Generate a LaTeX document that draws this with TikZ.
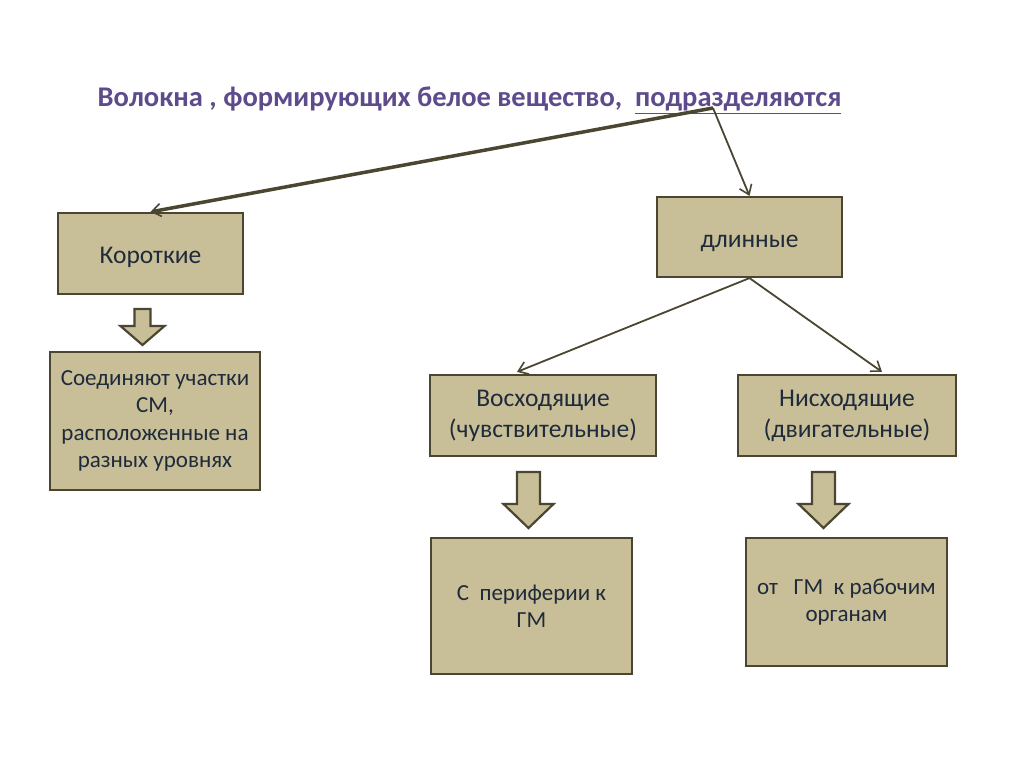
\documentclass[tikz,border=0pt]{standalone}
\usepackage{fontspec}
\setmainfont{Carlito}
\usetikzlibrary{arrows.meta,calc}
\definecolor{boxfill}{HTML}{C8BF98}
\definecolor{boxline}{HTML}{4B4631}
\definecolor{txt}{HTML}{1F2A3A}
\definecolor{ttl}{HTML}{5E4B8B}
\tikzset{
  box/.style={draw=boxline, line width=2.2pt, fill=boxfill, align=center, text=txt,
    font=\fontsize{23}{27.5}\selectfont, inner sep=0pt},
  bigbox/.style={box, font=\fontsize{25.5}{31}\selectfont},
  conn/.style={draw=boxline, line width=1.8pt, -{Straight Barb[length=9pt,width=13pt,line width=1.6pt]}},
  thickconn/.style={conn, line width=3.5pt},
  blockarrow/.style={draw=boxline, line width=2.2pt, fill=boxfill, line join=miter}
}
\newcommand{\blockarr}[6]{% xcenter, shaftTop, headTop, tip, shaftHalf, headHalf
  \draw[blockarrow] (#1-#5,#2) -- (#1+#5,#2) -- (#1+#5,#3) -- (#1+#6,#3) -- (#1,#4)
    -- (#1-#6,#3) -- (#1-#5,#3) -- cycle;}
\begin{document}
\begin{tikzpicture}[x=1pt,y=-1pt]
\useasboundingbox[fill=white] (0,0) rectangle (1024,767);
\node[text=ttl, font=\fontsize{28.5}{32}\selectfont\bfseries, anchor=base] (title) at (469.5,107)
  {Волокна , формирующих белое вещество,\ \ \underline{подразделяются}};
\coordinate (src) at (713,108);
\node[bigbox, minimum width=185pt, minimum height=81pt] (k) at (150.5,253.5) {\strut\raisebox{-4pt}{Короткие}};
\node[bigbox, minimum width=185pt, minimum height=80pt] (d) at (749.5,237) {\strut\raisebox{-4pt}{длинные}};
\node[box, minimum width=210pt, minimum height=138pt] (s) at (155,421)
  {Соединяют участки\\СМ,\\расположенные на\\разных уровнях};
\node[bigbox, minimum width=226pt, minimum height=81pt] (v) at (543,415.5)
  {Восходящие\\(чувствительные)};
\node[bigbox, minimum width=218pt, minimum height=81pt] (n) at (847,415.5)
  {Нисходящие\\(двигательные)};
\node[box, minimum width=201pt, minimum height=136pt] (p) at (531.5,606)
  {С\ \ периферии к\\ГМ};
\node[box, minimum width=201pt, minimum height=128pt] (o) at (846.5,602)
  {от\ \ \ ГМ\ \ к рабочим\\органам};
\draw[thickconn] (src) -- (k.north);
\draw[conn] (src) -- (d.north);
\draw[conn] (d.south) -- ($(v.north)+(-26,-2)$);
\draw[conn] (d.south) -- ($(n.north)+(35,-2)$);
\blockarr{142.5}{309}{326}{345}{8}{22}
\blockarr{528.5}{472}{504}{528}{11.5}{25}
\blockarr{823.5}{472}{504}{528}{11.5}{25}
\end{tikzpicture}
\end{document}
